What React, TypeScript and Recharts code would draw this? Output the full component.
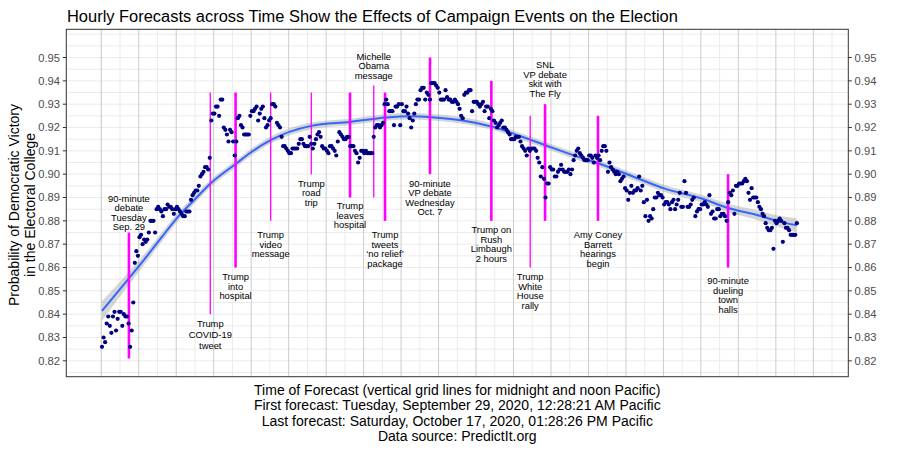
import React from 'react';
import {
  ComposedChart,
  Scatter,
  Line,
  Area,
  XAxis,
  YAxis,
  CartesianGrid,
  ReferenceLine,
} from 'recharts';

// hourly forecasts, one array per day (Pacific), first one at 00:28
const sep29 = [0.826, 0.83, 0.828, 0.836, 0.839, 0.835, 0.832, 0.839, 0.841, 0.833, 0.838, 0.841, 0.841, 0.835, 0.84, 0.839, 0.839, 0.836, 0.826, 0.833, 0.845, 0.862, 0.867, 0.865];
const sep30 = [0.873, 0.874, 0.87, 0.872, 0.871, 0.872, 0.875, 0.88, 0.88, 0.88, 0.875, 0.885, 0.886, 0.885, 0.884, 0.882, 0.885, 0.885, 0.887, 0.886, 0.886, 0.885, 0.883, 0.885];
const oct01 = [0.886, 0.885, 0.884, 0.883, 0.882, 0.882, 0.884, 0.884, 0.884, 0.889, 0.891, 0.892, 0.893, 0.893, 0.895, 0.899, 0.9, 0.901, 0.903, 0.903, 0.902, 0.907, 0.923, 0.926];
const oct02 = [0.926, 0.929, 0.929, 0.925, 0.932, 0.932, 0.92, 0.919, 0.917, 0.914, 0.919, 0.918, 0.914, 0.908, 0.914, 0.924, 0.925, 0.921, 0.92, 0.917, 0.917, 0.917, 0.917, 0.925];
const oct03 = [0.927, 0.927, 0.928, 0.929, 0.923, 0.926, 0.928, 0.929, 0.924, 0.92, 0.921, 0.923, 0.924, 0.93, 0.93, 0.929, 0.922, 0.921, 0.92, 0.916, 0.912, 0.912, 0.911, 0.91];
const oct04 = [0.909, 0.909, 0.911, 0.911, 0.911, 0.911, 0.913, 0.915, 0.915, 0.913, 0.912, 0.912, 0.912, 0.916, 0.913, 0.911, 0.913, 0.915, 0.917, 0.918, 0.916, 0.912, 0.911, 0.911];
const oct05 = [0.91, 0.909, 0.912, 0.912, 0.911, 0.91, 0.908, 0.914, 0.918, 0.917, 0.916, 0.915, 0.915, 0.916, 0.916, 0.912, 0.912, 0.912, 0.91, 0.909, 0.905, 0.907, 0.91, 0.91];
const oct06 = [0.909, 0.91, 0.909, 0.909, 0.909, 0.909, 0.916, 0.92, 0.921, 0.921, 0.92, 0.921, 0.922, 0.93, 0.932, 0.93, 0.927, 0.927, 0.927, 0.921, 0.929, 0.929, 0.93, 0.921];
const oct07 = [0.93, 0.927, 0.927, 0.929, 0.926, 0.924, 0.92, 0.923, 0.926, 0.93, 0.932, 0.932, 0.936, 0.937, 0.937, 0.932, 0.935, 0.934, 0.932, 0.939, 0.939, 0.939, 0.938, 0.937];
const oct08 = [0.935, 0.932, 0.932, 0.932, 0.936, 0.933, 0.932, 0.932, 0.931, 0.931, 0.932, 0.931, 0.93, 0.928, 0.925, 0.924, 0.934, 0.935, 0.935, 0.936, 0.936, 0.927, 0.931, 0.931];
const oct09 = [0.931, 0.93, 0.929, 0.93, 0.931, 0.927, 0.929, 0.929, 0.924, 0.928, 0.927, 0.923, 0.922, 0.92, 0.921, 0.922, 0.923, 0.92, 0.92, 0.919, 0.918, 0.917, 0.915, 0.915];
const oct10 = [0.915, 0.916, 0.916, 0.916, 0.914, 0.912, 0.911, 0.91, 0.908, 0.911, 0.91, 0.911, 0.911, 0.911, 0.91, 0.907, 0.905, 0.899, 0.903, 0.898, 0.89, 0.896, 0.896, 0.903];
const oct11 = [0.902, 0.902, 0.899, 0.899, 0.901, 0.902, 0.904, 0.902, 0.901, 0.901, 0.901, 0.902, 0.9, 0.902, 0.906, 0.908, 0.91, 0.911, 0.909, 0.908, 0.907, 0.906, 0.906, 0.906];
const oct12 = [0.908, 0.908, 0.907, 0.905, 0.908, 0.907, 0.908, 0.906, 0.91, 0.912, 0.912, 0.91, 0.901, 0.905, 0.903, 0.902, 0.901, 0.9, 0.901, 0.9, 0.897, 0.898, 0.899, 0.894];
const oct13 = [0.893, 0.889, 0.892, 0.895, 0.892, 0.893, 0.893, 0.894, 0.899, 0.893, 0.895, 0.888, 0.882, 0.889, 0.88, 0.882, 0.881, 0.885, 0.89, 0.89, 0.892, 0.891, 0.891, 0.89];
const oct14 = [0.887, 0.888, 0.888, 0.887, 0.885, 0.888, 0.889, 0.885, 0.887, 0.889, 0.892, 0.886, 0.886, 0.897, 0.892, 0.886, 0.886, 0.887, 0.889, 0.89, 0.882, 0.884, 0.885, 0.885];
const oct15 = [0.887, 0.887, 0.888, 0.887, 0.886, 0.891, 0.883, 0.884, 0.881, 0.881, 0.885, 0.885, 0.882, 0.883, 0.883, 0.882, 0.88, 0.888, 0.892, 0.891, 0.893, 0.883, 0.895, 0.895];
const oct16 = [0.896, 0.896, 0.896, 0.897, 0.898, 0.897, 0.892, 0.889, 0.894, 0.89, 0.89, 0.89, 0.888, 0.886, 0.885, 0.883, 0.882, 0.879, 0.877, 0.876, 0.876, 0.877, 0.868, 0.88];
const oct17 = [0.879, 0.88, 0.881, 0.88, 0.871, 0.879, 0.877, 0.877, 0.876, 0.874, 0.874, 0.874, 0.874, 0.879];

const days = [sep29, sep30, oct01, oct02, oct03, oct04, oct05, oct06, oct07, oct08, oct09, oct10, oct11, oct12, oct13, oct14, oct15, oct16, oct17];

// loess fit (forecast hour, fit, half-width of band)
const smoothHours = [0, 9, 18, 27, 38, 48, 59, 70, 86, 95, 108, 134, 159, 182, 198, 211, 230, 250, 275, 284, 305, 318, 345, 360, 384, 401, 420, 432, 445];
const smoothFit = [0.8414, 0.8487, 0.856, 0.8634, 0.8728, 0.8812, 0.8889, 0.8963, 0.9046, 0.9092, 0.9146, 0.9207, 0.9224, 0.9243, 0.9248, 0.9244, 0.9231, 0.9203, 0.9146, 0.9124, 0.9074, 0.9046, 0.8977, 0.8939, 0.8896, 0.8855, 0.8824, 0.88, 0.8781];
const smoothHalf = [0.0042, 0.0034, 0.0027, 0.0023, 0.002, 0.0018, 0.0017, 0.0016, 0.0015, 0.0015, 0.0015, 0.0014, 0.0014, 0.0014, 0.0014, 0.0014, 0.0014, 0.0014, 0.0014, 0.0014, 0.0014, 0.0014, 0.0015, 0.0015, 0.0016, 0.0018, 0.0021, 0.0024, 0.003];

// campaign events (hours since Sep 29 midnight)
const eventHours = [17.7, 69.8, 86.0, 108.5, 134.5, 159.3, 174.5, 181.7, 210.5, 249.8, 274.7, 284.2, 318.1, 401.4];
const eventTop = [0.875, 0.935, 0.935, 0.935, 0.935, 0.935, 0.938, 0.935, 0.95, 0.94, 0.925, 0.93, 0.925, 0.9];
const eventBottom = [0.821, 0.84, 0.86, 0.88, 0.9, 0.89, 0.89, 0.88, 0.9, 0.88, 0.86, 0.88, 0.88, 0.86];
const eventThick = [true, false, true, false, false, true, false, true, true, true, false, true, true, true];
const eventLabelY = [0.8896, 0.836, 0.8559, 0.8741, 0.8961, 0.8865, 0.9506, 0.8741, 0.8961, 0.8761, 0.8561, 0.9468, 0.8741, 0.8543];
const eventLabels = [
  ['90-minute', 'debate', 'Tuesday', 'Sep. 29'],
  ['Trump', 'COVID-19', 'tweet'],
  ['Trump', 'into', 'hospital'],
  ['Trump', 'video', 'message'],
  ['Trump', 'road', 'trip'],
  ['Trump', 'leaves', 'hospital'],
  ['Michelle', 'Obama', 'message'],
  ['Trump', 'tweets', '\u2018no relief\u2019', 'package'],
  ['90-minute', 'VP debate', 'Wednesday', 'Oct. 7'],
  ['Trump on', 'Rush', 'Limbaugh', '2 hours'],
  ['Trump', 'White', 'House', 'rally'],
  ['SNL', 'VP debate', 'skit with', 'The Fly'],
  ['Amy Coney', 'Barrett', 'hearings', 'begin'],
  ['90-minute', 'dueling', 'town', 'halls'],
];

const yTicks = [0.82, 0.83, 0.84, 0.85, 0.86, 0.87, 0.88, 0.89, 0.9, 0.91, 0.92, 0.93, 0.94, 0.95];

const xDomain = [-22.4, 478.4];
const yDomain = [0.8132, 0.9621];
const lightGridY = Array.from({ length: 30 }, (_, i) => +(0.815 + i * 0.005).toFixed(3));
const noonMidnight = Array.from({ length: 41 }, (_, i) => -12 + i * 12);
const midnights = Array.from({ length: 20 }, (_, i) => i * 24);

const points = days.flatMap((vals, d) => vals.map((p, i) => ({ h: d * 24 + i + 0.47, p })));
const smoothData = smoothHours.map((h, i) => ({
  h: h + 0.47,
  fit: smoothFit[i],
  band: [smoothFit[i] - smoothHalf[i], smoothFit[i] + smoothHalf[i]],
}));
const labelData = eventHours.map((h, i) => ({ h, y: eventLabelY[i], lines: eventLabels[i], gap: i === 1 ? 11.2 : 9.5 }));

const M = { top: 29.3, bottom: 73.3, left: 66.3, right: 51.7 };
const W = 900;
const H = 450;

const Dot = (props: any) => <circle cx={props.cx} cy={props.cy} r={2.1} fill="#000080" />;

const EventLabel = (props: any) => {
  const { cx, cy, payload } = props;
  return (
    <text x={cx} y={cy} textAnchor="middle" fontSize={9.4} fill="#000">
      {payload.lines.map((l: string, i: number) => (
        <tspan key={i} x={cx} dy={i === 0 ? 3.4 : payload.gap}>
          {l}
        </tspan>
      ))}
    </text>
  );
};

const fmt = (v: number) => v.toFixed(2);

export default function App() {
  return (
    <div style={{ position: 'relative', width: W, height: H, fontFamily: '"Liberation Sans", Arial, sans-serif', background: '#fff' }}>
      <style>{'body{margin:0}'}</style>
      <ComposedChart width={W} height={H} margin={{ top: M.top, right: 0, bottom: M.bottom, left: 0 }}>
        <XAxis type="number" dataKey="h" domain={xDomain} allowDataOverflow hide />
        <YAxis
          type="number"
          domain={yDomain}
          allowDataOverflow
          ticks={yTicks}
          interval={0}
          width={M.left}
          tickSize={3.5}
          tickMargin={2.8}
          axisLine={false}
          tickLine={{ stroke: '#333' }}
          tick={{ fill: '#4d4d4d', fontSize: 11.2 }}
          tickFormatter={fmt}
        />
        <YAxis
          yAxisId="right"
          orientation="right"
          type="number"
          domain={yDomain}
          allowDataOverflow
          ticks={yTicks}
          interval={0}
          width={M.right}
          tickSize={3.5}
          tickMargin={2.8}
          axisLine={false}
          tickLine={{ stroke: '#333' }}
          tick={{ fill: '#4d4d4d', fontSize: 11.2 }}
          tickFormatter={fmt}
        />
        <CartesianGrid stroke="#ebebeb" horizontalValues={lightGridY} verticalValues={noonMidnight} />
        <CartesianGrid stroke="#cccccc" horizontal={false} verticalValues={midnights} />
        <Scatter data={points} dataKey="p" shape={Dot} isAnimationActive={false} />
        <Area data={smoothData} dataKey="band" type="monotone" stroke="none" fill="#999999" fillOpacity={0.4} isAnimationActive={false} />
        <Line data={smoothData} dataKey="fit" type="monotone" stroke="#3366FF" strokeWidth={2} dot={false} isAnimationActive={false} />
        {eventHours.map((h, i) => (
          <ReferenceLine
            key={'ev' + i}
            segment={[{ x: h, y: eventBottom[i] }, { x: h, y: eventTop[i] }]}
            stroke="#FF00FF"
            strokeWidth={eventThick[i] ? 2.6 : 1.3}
          />
        ))}
        <Scatter data={labelData} dataKey="y" shape={EventLabel} isAnimationActive={false} />
      </ComposedChart>
      <svg width={W} height={H} style={{ position: 'absolute', left: 0, top: 0, pointerEvents: 'none' }}>
        <rect x={M.left} y={M.top} width={W - M.left - M.right} height={H - M.top - M.bottom} fill="none" stroke="#333" strokeWidth={1} />
        <text x={67} y={22} fontSize={16.45} fill="#000">
          Hourly Forecasts across Time Show the Effects of Campaign Events on the Election
        </text>
        <g transform="translate(0, 205) rotate(-90)" fontSize={14} fill="#000" textAnchor="middle">
          <text x={0} y={18.5}>Probability of Democratic Victory</text>
          <text x={0} y={34.5}>in the Electoral College</text>
        </g>
        <g fontSize={14} fill="#000" textAnchor="middle">
          <text x={457.3} y={394.5}>Time of Forecast (vertical grid lines for midnight and noon Pacific)</text>
          <text x={457.3} y={410}>First forecast: Tuesday, September 29, 2020, 12:28:21 AM Pacific</text>
          <text x={457.3} y={425.5}>Last forecast: Saturday, October 17, 2020, 01:28:26 PM Pacific</text>
          <text x={457.3} y={441}>Data source: PredictIt.org</text>
        </g>
      </svg>
    </div>
  );
}
